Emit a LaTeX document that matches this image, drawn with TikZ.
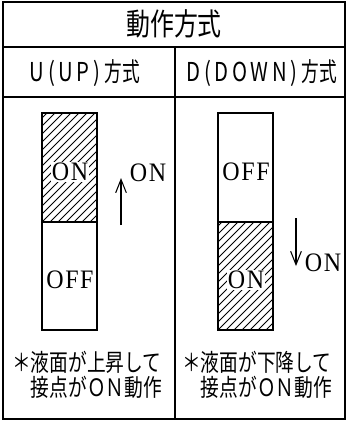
\documentclass[tikz,border=0pt]{standalone}
\usepackage{fontspec}
\newfontfamily\jpfont[FakeStretch=0.78]{Noto Sans CJK JP}
\newfontfamily\jphead[FakeStretch=0.68]{Noto Sans CJK JP}
\newfontfamily\jpspaced[FakeStretch=0.78,LetterSpace=14]{Noto Sans CJK JP}
\newfontfamily\latfont[FakeStretch=0.9,LetterSpace=6]{Liberation Serif}
\usetikzlibrary{arrows.meta}
\tikzstyle{frame}=[draw,line width=1.1pt]
\tikzstyle{switchbox}=[draw,line width=0.9pt]
\tikzstyle{hatch}=[line width=0.6pt]
\tikzstyle{titletext}=[font=\jpfont\fontsize{23}{23}\selectfont]
\tikzstyle{headtext}=[font=\jphead\fontsize{19.5}{19.5}\selectfont]
\tikzstyle{notetext}=[font=\jpfont\fontsize{18}{19}\selectfont,align=left,anchor=west,inner sep=0pt]
\tikzstyle{statetext}=[font=\latfont\fontsize{20}{20}\selectfont,inner sep=0.5pt]
\tikzstyle{move}=[draw,line width=0.8pt,-{Straight Barb[length=10pt,width=8pt]}]

\begin{document}
\begin{tikzpicture}[x=0.75pt,y=-0.75pt]
    \useasboundingbox (0,0) rectangle (347,422);

    % table frame
    \draw[frame] (3,2) rectangle (345,419);
    \draw[frame] (3,47) -- (345,47);
    \draw[frame] (3,97) -- (345,97);
    \draw[frame] (175,47) -- (175,419);

    % hatched ON halves
    \foreach \x/\top/\bot in {42/113/222, 218/222/330}{
        \begin{scope}
            \clip (\x,\top) rectangle (\x+55,\bot);
            \foreach \s in {-120,-112,...,56}
                \draw[hatch] (\x+\s,\bot) -- ++(125,-125);
        \end{scope}
    }

    % float switch boxes
    \foreach \x in {42,218}{
        \draw[switchbox] (\x,113) rectangle (\x+55,330);
        \draw[switchbox] (\x,222) -- (\x+55,222);
    }

    \node[titletext] (title) at (174,24) {動作方式};
    \node[headtext] (hdrU) at (85,73) {{\jpspaced U(UP)}\,方式};
    \node[headtext] (hdrD) at (262,73) {{\jpspaced D(DOWN)}\,方式};

    \node[statetext,fill=white] (onU) at (70,172) {ON};
    \node[statetext] (offU) at (70,280) {OFF};
    \node[statetext] (offD) at (246,172) {OFF};
    \node[statetext,fill=white] (onD) at (246,280) {ON};

    % direction arrows
    \coordinate (tailU) at (121,225);
    \coordinate (tipU) at (121,178);
    \coordinate (tailD) at (296,218);
    \coordinate (tipD) at (296,266);
    \draw[move] (tailU) -- (tipU);
    \draw[move] (tailD) -- (tipD);
    \node[statetext] (lblU) at (148,173) {ON};
    \node[statetext] (lblD) at (323,263) {ON};

    \node[notetext] (noteU) at (12,375) {＊液面が上昇して\\　接点がＯＮ動作};
    \node[notetext] (noteD) at (182,375) {＊液面が下降して\\　接点がＯＮ動作};
\end{tikzpicture}
\end{document}
